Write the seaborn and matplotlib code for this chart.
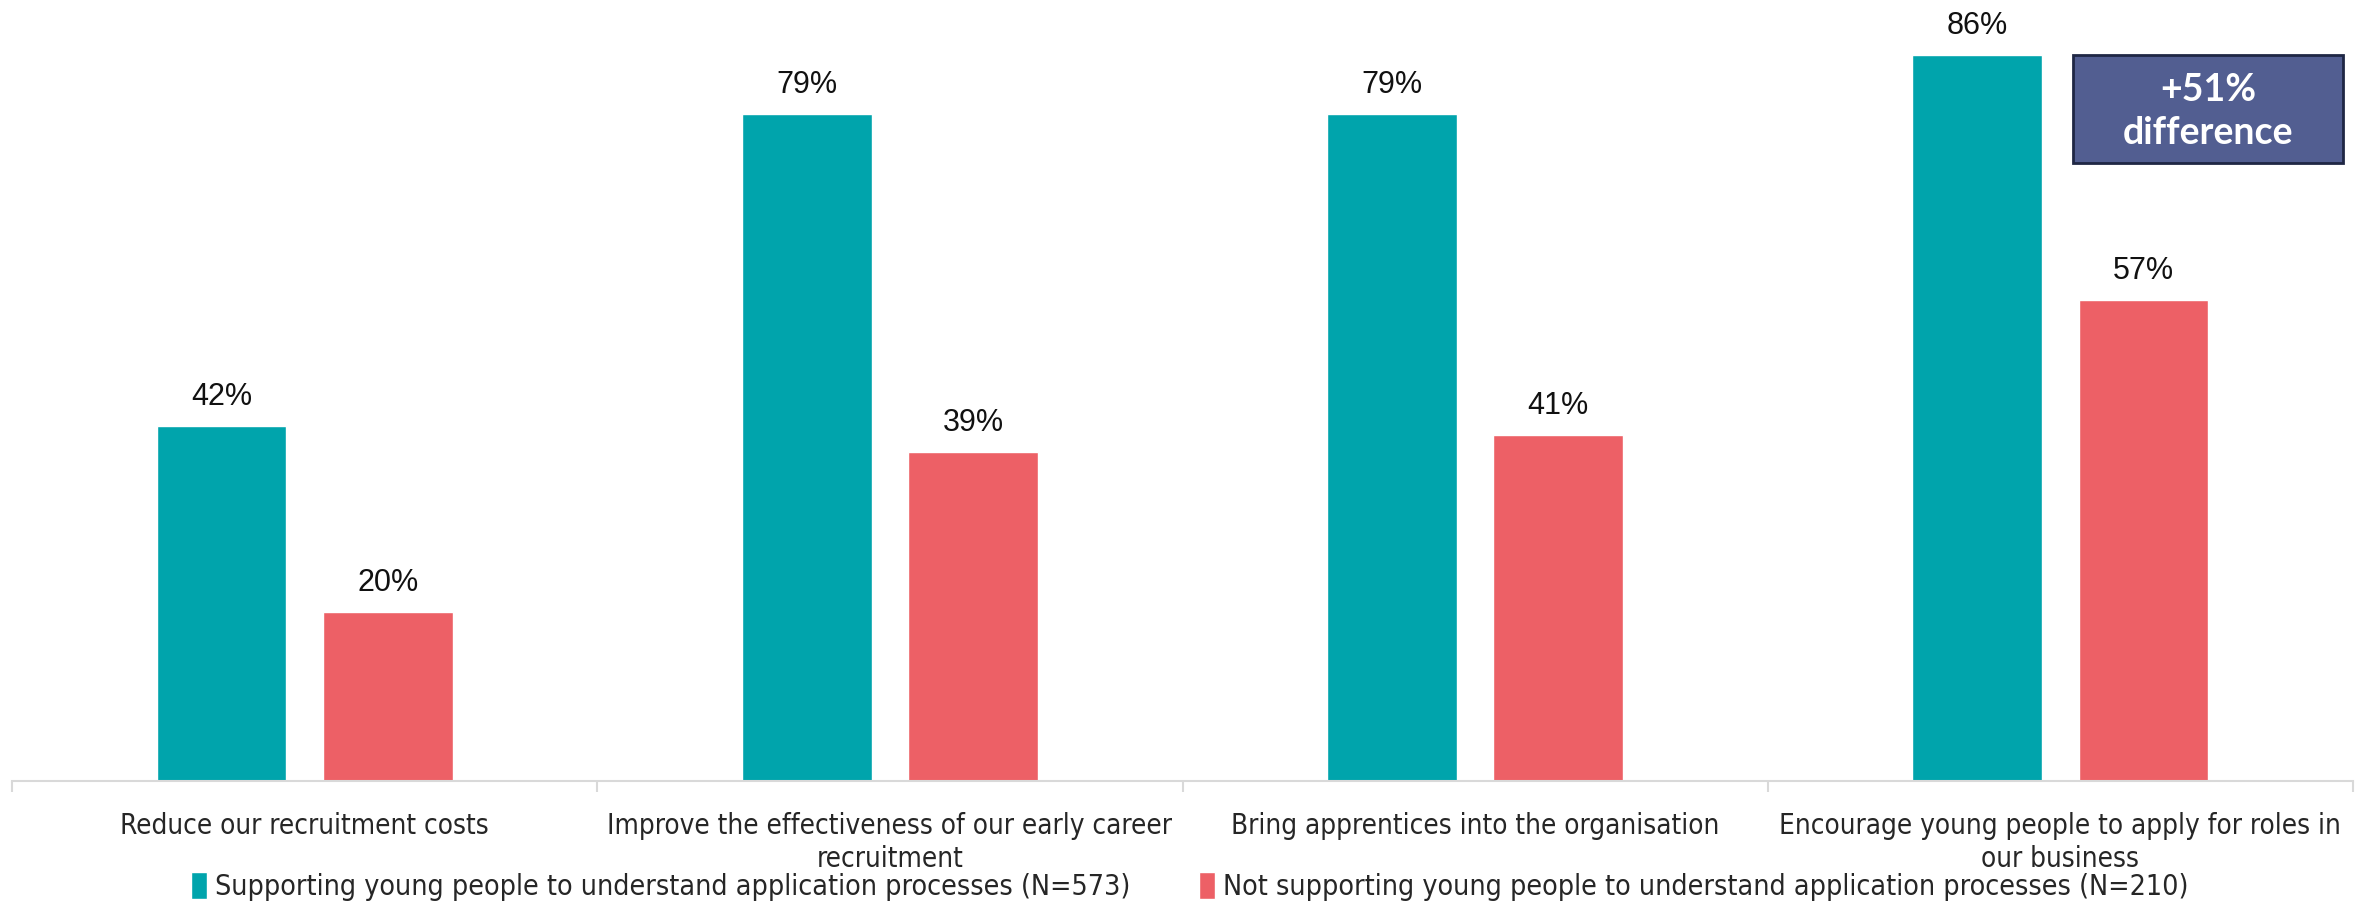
import matplotlib
matplotlib.use("Agg")
import matplotlib.pyplot as plt
import seaborn as sns
import pandas as pd
from matplotlib.patches import Rectangle

categories = [
    "Reduce our recruitment costs",
    "Improve the effectiveness of our early career\nrecruitment",
    "Bring apprentices into the organisation",
    "Encourage young people to apply for roles in\nour business",
]
series_names = [
    "Supporting young people to understand application processes (N=573)",
    "Not supporting young people to understand application processes (N=210)",
]
supporting = [42, 79, 79, 86]
not_supporting = [20, 39, 41, 57]
colors = ["#00A4AC", "#ED6066"]

df = pd.DataFrame({
    "category": categories * 2,
    "series": [series_names[0]] * 4 + [series_names[1]] * 4,
    "value": supporting + not_supporting,
})

sns.set_theme(style="white")
narrow = ["DejaVu Sans"]
plt.rcParams["font.family"] = ["Liberation Sans", "DejaVu Sans"]

fig = plt.figure(figsize=(23.56, 9.16), dpi=100)
ax = fig.add_axes([12 / 2356, 1 - 781 / 916, (2353 - 12) / 2356, 781 / 916])

sns.barplot(data=df, x="category", y="value", hue="series", palette=colors,
            width=0.568, gap=0.22, ax=ax, legend=True, saturation=1)

for cont in ax.containers:
    ax.bar_label(cont, labels=[f"{v:.0f}%" for v in cont.datavalues],
                 padding=10, fontsize=22, color="#111111")

ax.set_xlim(-0.5, 3.5)
ax.set_ylim(0, 92.5)
ax.set_xlabel("")
ax.set_ylabel("")
ax.set_yticks([])
for s in ["top", "right", "left"]:
    ax.spines[s].set_visible(False)
ax.spines["bottom"].set_color("#d9d9d9")
ax.spines["bottom"].set_linewidth(1.5)

ax.set_xticks(range(4))
ax.set_xticklabels(categories, fontsize=20, family=narrow, fontstretch="condensed",
                   linespacing=1.25)
ax.tick_params(axis="x", which="major", length=0, pad=22)
ax.set_xticks([-0.5, 0.5, 1.5, 2.5, 3.5], minor=True)
ax.tick_params(axis="x", which="minor", length=8, width=1.5, color="#d9d9d9",
               direction="out", bottom=True)

# annotation box
ax.add_patch(Rectangle((3.022, 73.2), 0.461, 12.8, facecolor="#525E91",
                       edgecolor="#1F2744", linewidth=2, zorder=5))
ax.text(3.2525, 79.3, "+51%\ndifference", ha="center", va="center",
        color="white", fontsize=27, fontweight="bold", family=["Lato", "DejaVu Sans"],
        linespacing=1.32, zorder=6)

leg = ax.legend(loc="lower center", ncol=2,
                frameon=False, handlelength=0.55, handleheight=1.1, handletextpad=0.3,
                columnspacing=2.4,
                prop={"family": narrow, "size": 20.5, "stretch": "condensed"})
leg.set_bbox_to_anchor((0.505, -0.012), transform=fig.transFigure)

fig.savefig("out.png", dpi=100)
